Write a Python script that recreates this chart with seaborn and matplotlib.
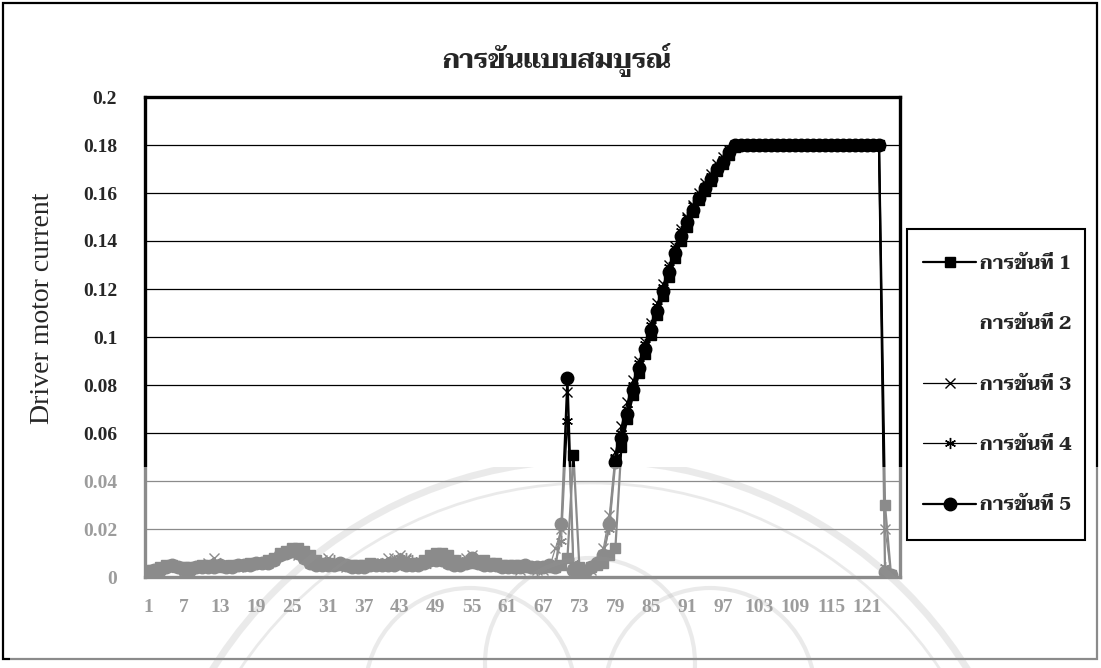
import numpy as np
import pandas as pd
import seaborn as sns
import matplotlib
matplotlib.use("Agg")
import matplotlib.pyplot as plt
from matplotlib import font_manager
from matplotlib.ft2font import FT2Font
from matplotlib.patches import Rectangle, Circle

# ---------------------------------------------------------------- text
title = "การขันแบบสมบูรณ์"
y_label = "Driver motor current"
series_names = ["การขันที่ 1", "การขันที่ 2", "การขันที่ 3", "การขันที่ 4", "การขันที่ 5"]
x_ticks = [1, 7, 13, 19, 25, 31, 37, 43, 49, 55, 61, 67, 73, 79, 85, 91, 97, 103, 109, 115, 121]
y_ticks = [0, 0.02, 0.04, 0.06, 0.08, 0.1, 0.12, 0.14, 0.16, 0.18, 0.2]
y_tick_labels = ["0", "0.02", "0.04", "0.06", "0.08", "0.1", "0.12", "0.14", "0.16", "0.18", "0.2"]
n_categories = 126

# ---------------------------------------------------------------- data (one value per sample)
run1 = [
    .003, .003, .004, .005, .005, .004, .004, .004, .004, .005,
    .005, .005, .004, .004, .005, .005, .005, .006, .006, .006,
    .007, .008, .010, .011, .012, .012, .011, .009, .007, .006,
    .006, .005, .005, .005, .005, .005, .005, .006, .005, .005,
    .005, .006, .006, .005, .006, .006, .007, .009, .010, .010,
    .009, .007, .006, .006, .006, .006, .007, .006, .006, .005,
    .005, .005, .005, .004, .004, .004, .004, .004, .004, .005,
    .008, .051, .004, .003, .004, .005, .006, .009, .012, .054,
    .066, .076, .085, .093, .101, .109, .117, .125, .133, .140,
    .146, .152, .157, .161, .165, .169, .172, .176, .179, .180,
    .180, .180, .180, .180, .180, .180, .180, .180, .180, .180,
    .180, .180, .180, .180, .180, .180, .180, .180, .180, .180,
    .180, .180, .180, .030, .001,
]
run2 = [
    .003, .003, .003, .004, .004, .004, .004, .004, .004, .004,
    .004, .005, .005, .004, .004, .005, .005, .005, .006, .006,
    .006, .007, .009, .010, .011, .010, .008, .007, .006, .006,
    .005, .006, .006, .005, .005, .004, .005, .005, .005, .005,
    .005, .006, .007, .006, .005, .005, .006, .007, .008, .008,
    .007, .006, .006, .006, .007, .006, .005, .005, .005, .005,
    .004, .004, .004, .004, .004, .004, .004, .004, .005, .018,
    .075, .005, .003, .003, .004, .006, .010, .020, .049, .059,
    .069, .079, .088, .096, .104, .112, .120, .128, .136, .143,
    .149, .154, .159, .163, .167, .171, .174, .177, .180, .180,
    .180, .180, .180, .180, .180, .180, .180, .180, .180, .180,
    .180, .180, .180, .180, .180, .180, .180, .180, .180, .180,
    .180, .180, .180, .003, .001,
]
run3 = [
    .002, .003, .004, .004, .005, .004, .003, .004, .004, .005,
    .006, .008, .005, .004, .005, .004, .005, .005, .006, .006,
    .006, .007, .009, .010, .010, .009, .008, .006, .006, .007,
    .008, .006, .005, .004, .004, .005, .005, .005, .006, .006,
    .008, .008, .009, .008, .006, .006, .006, .007, .007, .007,
    .006, .006, .006, .008, .009, .007, .005, .005, .005, .004,
    .004, .004, .003, .004, .004, .003, .003, .004, .012, .020,
    .077, .004, .002, .002, .003, .005, .012, .026, .052, .063,
    .073, .082, .090, .098, .106, .114, .122, .130, .138, .145,
    .150, .155, .160, .164, .168, .172, .175, .178, .180, .180,
    .180, .180, .180, .180, .180, .180, .180, .180, .180, .180,
    .180, .180, .180, .180, .180, .180, .180, .180, .180, .180,
    .180, .180, .180, .020, .001,
]
run4 = [
    .003, .003, .003, .004, .004, .004, .004, .003, .004, .004,
    .004, .005, .006, .005, .004, .005, .005, .005, .006, .006,
    .007, .008, .009, .011, .011, .010, .008, .007, .006, .006,
    .006, .007, .006, .005, .005, .004, .005, .005, .005, .006,
    .006, .007, .008, .008, .007, .006, .006, .006, .007, .007,
    .006, .006, .007, .007, .008, .007, .006, .005, .005, .005,
    .004, .004, .004, .004, .004, .003, .004, .004, .006, .015,
    .065, .006, .003, .003, .004, .006, .010, .020, .050, .060,
    .070, .080, .089, .097, .105, .113, .121, .129, .137, .144,
    .150, .155, .159, .163, .167, .171, .174, .177, .180, .180,
    .180, .180, .180, .180, .180, .180, .180, .180, .180, .180,
    .180, .180, .180, .180, .180, .180, .180, .180, .180, .180,
    .180, .180, .180, .004, .001,
]
run5 = [
    .002, .003, .003, .004, .005, .004, .003, .003, .004, .004,
    .004, .004, .005, .004, .004, .005, .005, .005, .006, .006,
    .006, .007, .009, .010, .011, .010, .008, .006, .005, .005,
    .005, .005, .006, .005, .004, .004, .004, .005, .005, .005,
    .005, .005, .006, .005, .005, .005, .006, .007, .007, .007,
    .006, .005, .005, .006, .008, .006, .005, .005, .005, .004,
    .004, .004, .004, .005, .004, .004, .004, .005, .004, .022,
    .083, .003, .002, .002, .004, .006, .009, .022, .048, .058,
    .068, .078, .087, .095, .103, .111, .119, .127, .135, .142,
    .148, .153, .158, .162, .166, .170, .173, .177, .180, .180,
    .180, .180, .180, .180, .180, .180, .180, .180, .180, .180,
    .180, .180, .180, .180, .180, .180, .180, .180, .180, .180,
    .180, .180, .180, .002, .001,
]
runs = [run1, run2, run3, run4, run5]


# ---------------------------------------------------------------- fonts
def thai_fonts():
    found = {}
    for f in font_manager.fontManager.ttflist:
        try:
            if FT2Font(f.fname).get_char_index(0x0E01):
                found.setdefault(f.name, set()).add(f.weight)
        except Exception:
            pass
    return found


found_thai = thai_fonts()
preferred = ["Taviraj", "Trirong", "Pridi", "Sarabun", "Maitree", "Noto Serif Thai",
             "Noto Sans Thai Looped", "Noto Sans Thai", "Loma"]
thai_family = next((p for p in preferred if p in found_thai),
                   sorted(found_thai)[0] if found_thai else "DejaVu Sans")
thai_stack = [thai_family, "DejaVu Sans"]

sns.set_theme(style="white")
plt.rcParams["font.family"] = thai_stack
serif = "Liberation Serif"

W, H = 1101, 668
fig = plt.figure(figsize=(W / 100, H / 100), dpi=100)
fig.patch.set_facecolor("white")


def px_box(x0, y0, x1, y1):
    """Figure-fraction box from pixel edges measured from the top-left."""
    return [x0 / W, 1 - y1 / H, (x1 - x0) / W, (y1 - y0) / H]


ax = fig.add_axes(px_box(145, 97, 900, 577))
ax.set_facecolor("white")

# ---------------------------------------------------------------- series
x = np.arange(1, len(run1) + 1)
df = pd.DataFrame({"sample": np.tile(x, len(runs)),
                   "current": np.concatenate(runs),
                   "run": np.repeat(series_names, len(x))})

styles = [
    dict(marker="s", markersize=7, linewidth=1.6),
    dict(marker=None, linestyle="None", linewidth=0),
    dict(marker="x", markersize=7, linewidth=0.9),
    dict(marker=(6, 2, 0), markersize=8, linewidth=0.9),
    dict(marker="o", markersize=9, linewidth=1.6),
]
for name, st in zip(series_names, styles):
    sub = df[df["run"] == name]
    sns.lineplot(data=sub, x="sample", y="current", ax=ax, color="black",
                 label=name, errorbar=None, sort=False,
                 markeredgecolor="black", markeredgewidth=1.0, zorder=3, **st)

# ---------------------------------------------------------------- axes styling
ax.set_xlim(0.5, n_categories + 0.5)
ax.set_ylim(0, 0.2)
ax.set_xticks(x_ticks, labels=[str(t) for t in x_ticks])
ax.set_yticks(y_ticks, labels=y_tick_labels)
ax.set_xlabel("")
ax.set_ylabel("")
ax.yaxis.grid(True, color="black", linewidth=0.9)
ax.xaxis.grid(False)
ax.set_axisbelow(True)
for s in ax.spines.values():
    s.set_visible(True)
    s.set_color("black")
    s.set_linewidth(2.4)
ax.tick_params(axis="both", length=0)
ax.tick_params(axis="y", pad=20)
ax.tick_params(axis="x", pad=16)
for lab in ax.get_yticklabels() + ax.get_xticklabels():
    lab.set_fontfamily(serif)
    lab.set_fontweight("bold")
    lab.set_fontsize(14)

handles, labels = ax.get_legend_handles_labels()
ax.get_legend().remove()

# ---------------------------------------------------------------- figure texts
fig.text(557 / W, 1 - 60 / H, title, ha="center", va="center",
         fontsize=19, fontweight="bold", family=thai_stack)
fig.text(43 / W, 1 - 308 / H, y_label, ha="center", va="center", rotation=90,
         fontsize=20, family=serif)

# outer chart frame
fig.add_artist(Rectangle((3 / 100, (H - 659) / 100), 1094 / 100, 656 / 100,
                         transform=fig.dpi_scale_trans, fill=False,
                         edgecolor="black", linewidth=1.6, zorder=2))

# faded seal printed across the lower part of the page
fade = Rectangle((10 / 100, 0), (W - 10) / 100, (H - 467) / 100,
                 transform=fig.dpi_scale_trans, facecolor="white",
                 edgecolor="none", alpha=0.55, zorder=5)
fig.add_artist(fade)
seal_parts = [((5.90, -2.37), 4.45, 5), ((5.90, -2.37), 4.22, 2),
              ((4.70, -0.25), 1.05, 3), ((5.90, 0.05), 1.05, 3), ((7.10, -0.25), 1.05, 3)]
for centre, radius, lw in seal_parts:
    ring = Circle(centre, radius, transform=fig.dpi_scale_trans, fill=False,
                  edgecolor="#9a9a9a", alpha=0.2, linewidth=lw, zorder=6)
    fig.add_artist(ring)
    ring.set_clip_path(fade)

# legend: white box with a black border, entries placed inside it
fig.add_artist(Rectangle((907 / 100, (H - 540) / 100), 178 / 100, 311 / 100,
                         transform=fig.dpi_scale_trans, facecolor="white",
                         edgecolor="black", linewidth=1.5, zorder=9))
leg = fig.legend(handles, labels, loc="upper left",
                 bbox_to_anchor=(897 / W, 1 - 229 / H), borderaxespad=0,
                 frameon=False, borderpad=1.35, labelspacing=2.2,
                 handlelength=2.7, handletextpad=0.2,
                 prop={"family": thai_stack, "weight": "bold", "size": 14})
leg.set_zorder(10)

fig.savefig("out.png", dpi=100, facecolor="white")
